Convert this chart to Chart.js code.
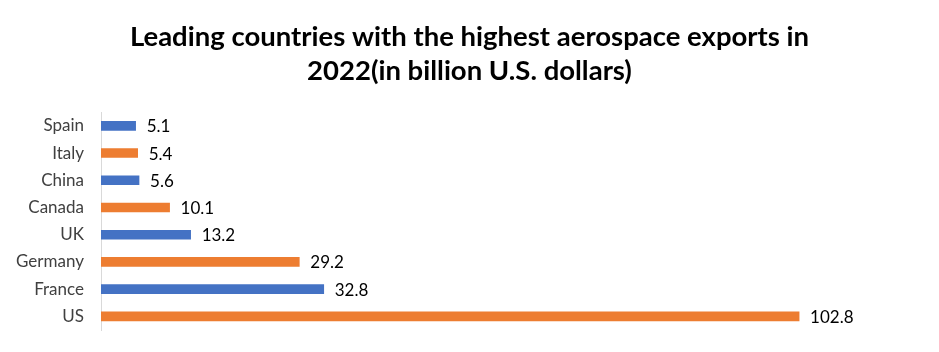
<!DOCTYPE html>
<html>
<head>
<meta charset="utf-8">
<script src="https://cdn.jsdelivr.net/npm/chart.js@4"></script>
<style>
  html, body { margin: 0; padding: 0; background: #fff; overflow: hidden; }
  canvas { display: block; }
</style>
</head>
<body>
<canvas id="exportChart" width="939" height="352"></canvas>
<script>
// Aerospace exports 2022, billion USD
var countries = ['Spain', 'Italy', 'China', 'Canada', 'UK', 'Germany', 'France', 'US'];
var exportsBn = [5.1, 5.4, 5.6, 10.1, 13.2, 29.2, 32.8, 102.8];
var barColors = ['#4472C4', '#ED7D31', '#4472C4', '#ED7D31', '#4472C4', '#ED7D31', '#4472C4', '#ED7D31'];

// value labels at the end of each bar
var valueLabels = {
    id: 'valueLabels',
    afterDatasetsDraw: function(chart) {
        var ctx = chart.ctx;
        var meta = chart.getDatasetMeta(0);
        ctx.save();
        ctx.font = '17px Lato, "Open Sans", sans-serif';
        ctx.fillStyle = '#000';
        ctx.textBaseline = 'middle';
        ctx.textAlign = 'left';
        meta.data.forEach(function(bar, i) {
            ctx.fillText(String(exportsBn[i]), bar.x + 11, bar.y + 1);
        });
        ctx.restore();
    }
};

var ctx = document.getElementById('exportChart').getContext('2d');
new Chart(ctx, {
    type: 'bar',
    data: {
        labels: countries,
        datasets: [{
            data: exportsBn,
            backgroundColor: barColors,
            barThickness: 9
        }]
    },
    options: {
        indexAxis: 'y',
        responsive: false,
        animation: false,
        layout: { padding: { top: 0, right: 0, bottom: 22, left: 0 } },
        scales: {
            x: {
                display: false,
                min: 0,
                max: 123.4
            },
            y: {
                afterFit: function(scale) { scale.width = 101; },
                grid: { display: false, drawTicks: true, tickLength: 17, tickColor: 'rgba(0,0,0,0)' },
                border: { display: true, color: '#D9D9D9', width: 1 },
                ticks: {
                    color: '#404040',
                    padding: 0,
                    font: { family: 'Lato, "Open Sans", sans-serif', size: 17 }
                }
            }
        },
        plugins: {
            legend: { display: false },
            tooltip: { enabled: false },
            title: {
                display: true,
                text: ['Leading countries with the highest aerospace exports in', '2022(in billion U.S. dollars)'],
                color: '#000',
                font: { family: 'Lato, "Open Sans", sans-serif', size: 27.5, weight: 'bold', lineHeight: 1.24 },
                padding: { top: 20, bottom: 24 }
            }
        }
    },
    plugins: [valueLabels]
});
</script>
</body>
</html>
